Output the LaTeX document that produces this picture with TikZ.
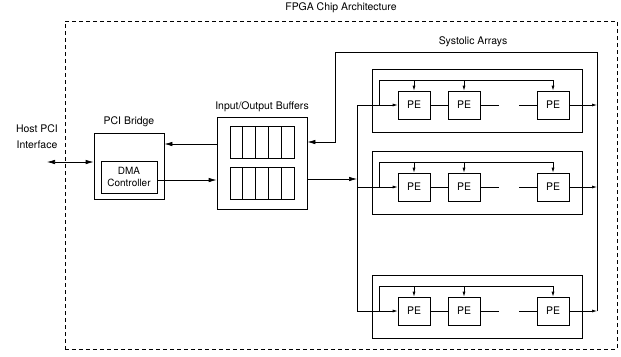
\documentclass[tikz,border=0pt]{standalone}
\usepackage{fontspec}
\setmainfont{TeX Gyre Heros}
\usetikzlibrary{positioning, arrows.meta, calc}

\begin{document}
\begin{tikzpicture}[
    x=1bp, y=-1bp,
    font=\fontsize{10.5}{12}\selectfont,
    line width=0.7bp,
    box/.style={rectangle, draw, inner sep=0pt},
    pe/.style={box, minimum width=32bp, minimum height=28bp},
    cell/.style={box, minimum width=12.8bp, minimum height=32bp},
    caption/.style={inner sep=0pt},
    arrow/.style={-{Latex[length=8bp,width=4.5bp]}},
    biarrow/.style={{Latex[length=8bp,width=4.5bp]}-{Latex[length=8bp,width=4.5bp]}},
    tap/.style={-{Latex[length=5bp,width=3bp]}},
]
\useasboundingbox (0,0) rectangle (621,356);

% ── Chip outline ──────────────────────────────────────────────────────────
\node[box, dash pattern=on 4bp off 3bp, minimum width=552bp, minimum height=328bp]
    (chip) at (341,185) {};
\node[caption, above=8bp of chip] (chiplabel) {FPGA Chip Architecture};

% ── Host side ─────────────────────────────────────────────────────────────
\node[caption, align=center, font=\fontsize{10.5}{16}\selectfont] (host) at (37,137)
    {Host PCI\\Interface};
\coordinate (hostpin) at (47,162);

% ── PCI Bridge ────────────────────────────────────────────────────────────
\node[box, minimum width=70bp, minimum height=66bp] (bridge) at (129,166) {};
\node[caption, above=6bp of bridge] {PCI Bridge};
\node[box, minimum width=56bp, minimum height=32bp, align=center,
      font=\fontsize{10}{12}\selectfont] (dma) at (129,177) {DMA\\Controller};

% ── Input/Output Buffers ──────────────────────────────────────────────────
\node[box, minimum width=90bp, minimum height=92bp] (iobuf) at (262,163) {};
\node[caption, above=5bp of iobuf] {Input/Output Buffers};
\foreach \i in {0,...,4} {
    \node[cell] (bufin\i) at ({236.4+12.8*\i},142) {};
    \node[cell] (bufout\i) at ({236.4+12.8*\i},183) {};
}

% ── Systolic Arrays ───────────────────────────────────────────────────────
\coordinate (lbus) at (357,105);
\coordinate (rbus) at (597,52);
\coordinate (fbcorner) at (335,52);
\node[caption] (sysLabel) at (473,42) {Systolic Arrays};

\foreach \r/\y in {1/105, 2/187, 3/311} {
    \node[box, minimum width=210bp, minimum height=63bp] (row\r) at (477,\y-4) {};
    \node[pe] (pea\r) at (414,\y) {PE};
    \node[pe] (peb\r) at (464,\y) {PE};
    \node[pe] (pec\r) at (553,\y) {PE};
    \coordinate (tap\r) at (379,\y);
    % input and broadcast line
    \draw[tap] (lbus |- tap\r) -- (pea\r.west);
    \draw (tap\r) -- ++(0,-25) coordinate (feed\r) -- (feed\r -| pec\r.north);
    \foreach \p in {pea,peb,pec}
        \draw[tap] (feed\r -| \p\r.north) -- (\p\r.north);
    % PE chain
    \draw (pea\r) -- (peb\r);
    \draw (peb\r.east) -- ++(19,0);
    \draw (pec\r.west) -- ++(-18,0);
    \draw[tap] (pec\r) -- (pec\r -| rbus);
}

% ── Buses ─────────────────────────────────────────────────────────────────
\draw (lbus) -- (lbus |- tap3);
\draw[arrow] (rbus |- tap3) -- (rbus) -- (fbcorner) |- ([yshift=21bp]iobuf.east);

% ── Arrows ────────────────────────────────────────────────────────────────
\draw[biarrow] (hostpin) -- (hostpin -| bridge.west);
\draw[arrow] ([yshift=19bp]iobuf.west) -- ([yshift=19bp]iobuf.west -| bridge.east);
\draw[arrow] ([yshift=-3bp]dma.east) -- ([yshift=-3bp]dma.east -| iobuf.west);
\draw[arrow] ([yshift=-16bp]iobuf.east) -- ([yshift=-16bp]iobuf.east -| lbus);

\end{tikzpicture}
\end{document}
